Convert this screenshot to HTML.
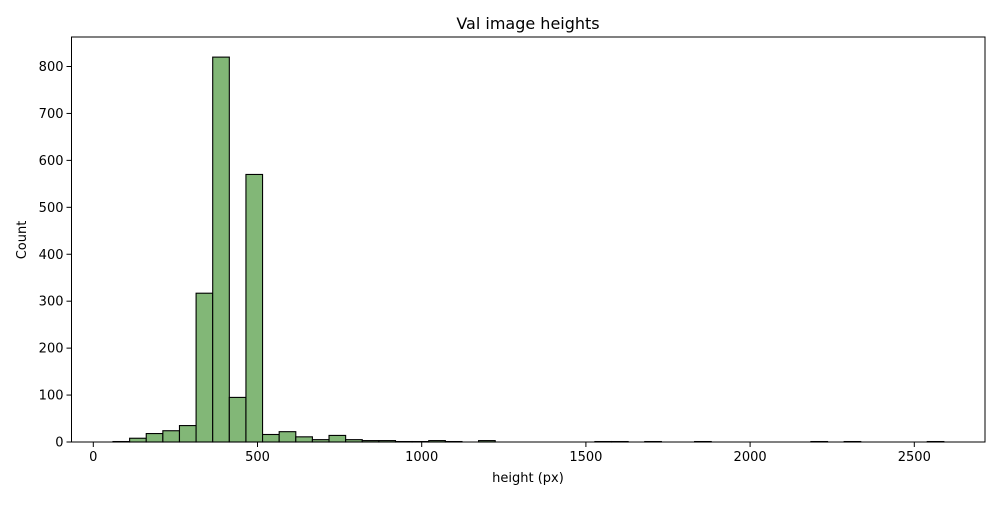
<!DOCTYPE html>
<html><head><meta charset="utf-8"><style>
body{margin:0;background:#fff;font-family:"Liberation Sans","DejaVu Sans",sans-serif}
svg text{font-family:"DejaVu Sans","Liberation Sans",sans-serif;fill:#000}
</style></head><body>
<svg id="chart" width="1000" height="500" xmlns="http://www.w3.org/2000/svg">
<text x="528" y="29" font-size="16" text-anchor="middle">Val image heights</text>
<g id="bars"></g>
<g id="axes"></g>
<text x="528" y="482" font-size="13" text-anchor="middle">height (px)</text>
<text transform="translate(26,240) rotate(-90)" font-size="13" text-anchor="middle">Count</text>
</svg>
<script>
const binStart = 60;
const binWidth = 50.6;
const counts = [1,8,18,24,35,317,820,95,570,16,22,11,5,14,5,3,3,1,1,3,1,0,3,0,0,0,0,0,0,1,1,0,1,0,0,1,0,0,0,0,0,0,1,0,1,0,0,0,0,1];
const xTicks = [0,500,1000,1500,2000,2500];
const yTicks = [0,100,200,300,400,500,600,700,800];
const L=71.5,R=985,T=37,B=442;
const sx=v=>93.3+v*0.3284;
const sy=v=>B-v*(375.5/800);
const NS="http://www.w3.org/2000/svg";
const bars=document.getElementById('bars'), axes=document.getElementById('axes');
counts.forEach((c,i)=>{
  if(c<=0) return;
  const r=document.createElementNS(NS,'rect');
  const x0=sx(binStart+i*binWidth), x1=sx(binStart+(i+1)*binWidth);
  r.setAttribute('x',x0);r.setAttribute('y',sy(c));
  r.setAttribute('width',x1-x0);r.setAttribute('height',B-sy(c));
  r.setAttribute('fill','#82b777');r.setAttribute('stroke','#000');r.setAttribute('stroke-width','1.1');
  
  
  bars.appendChild(r);
});
const frame=document.createElementNS(NS,'rect');
frame.setAttribute('x',L);frame.setAttribute('y',T);frame.setAttribute('width',R-L);frame.setAttribute('height',B-T);
frame.setAttribute('fill','none');frame.setAttribute('stroke','#000');frame.setAttribute('stroke-width','1');


axes.appendChild(frame);
xTicks.forEach(v=>{
  const x=sx(v);
  const l=document.createElementNS(NS,'line');
  l.setAttribute('x1',x);l.setAttribute('x2',x);l.setAttribute('y1',B);l.setAttribute('y2',B+5);l.setAttribute('stroke','#000');
  
  
  axes.appendChild(l);
  const t=document.createElementNS(NS,'text');
  t.setAttribute('x',x);t.setAttribute('y',B+19);t.setAttribute('font-size','13');t.setAttribute('text-anchor','middle');
  t.textContent=v;
  
  
  axes.appendChild(t);
});
yTicks.forEach(v=>{
  const y=sy(v);
  const l=document.createElementNS(NS,'line');
  l.setAttribute('x1',L-5);l.setAttribute('x2',L);l.setAttribute('y1',y);l.setAttribute('y2',y);l.setAttribute('stroke','#000');
  
  
  axes.appendChild(l);
  const t=document.createElementNS(NS,'text');
  t.setAttribute('x',L-8);t.setAttribute('y',y+4.5);t.setAttribute('font-size','13');t.setAttribute('text-anchor','end');
  t.textContent=v;
  
  
  axes.appendChild(t);
});
</script>
</body></html>
